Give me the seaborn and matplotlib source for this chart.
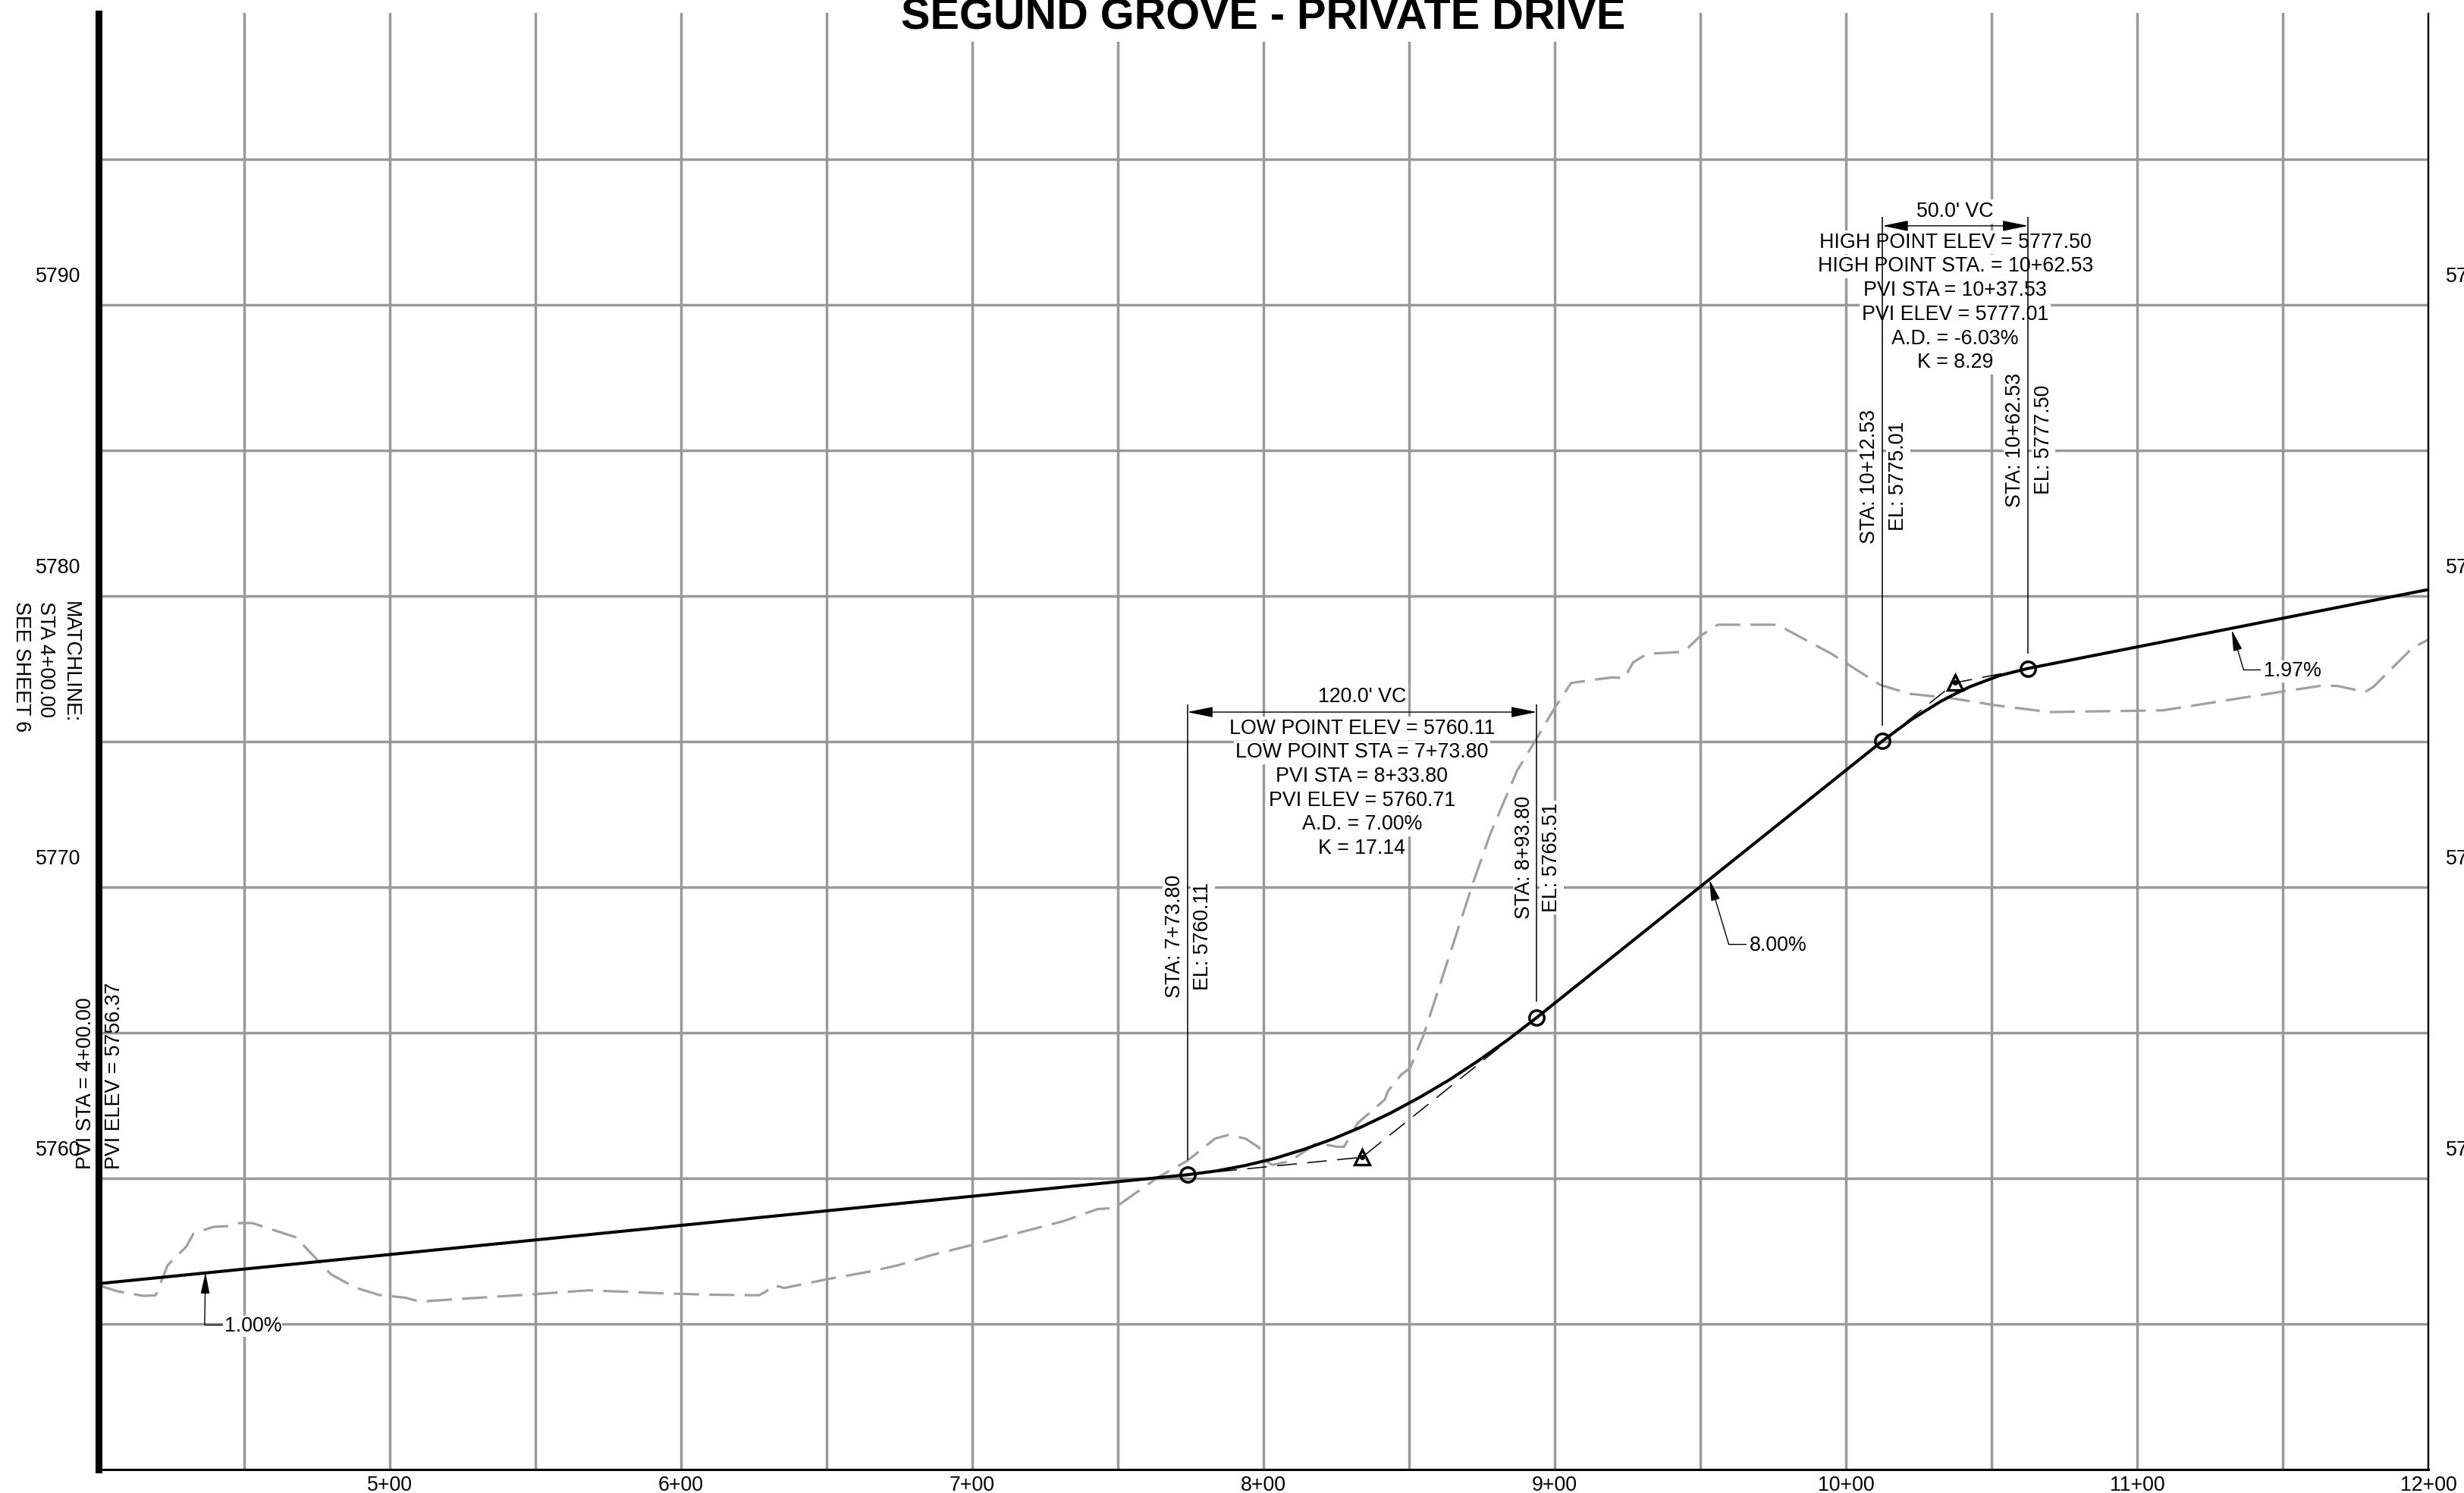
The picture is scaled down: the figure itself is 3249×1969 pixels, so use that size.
import matplotlib
matplotlib.use("Agg")
import matplotlib.pyplot as plt
import seaborn as sns

sns.set_theme(style="white")
plt.rcParams['font.family'] = ['Liberation Sans', 'DejaVu Sans']
plt.rcParams['text.color'] = 'black'

# -------------------------
# Data (station in feet, elevation in feet)
# -------------------------

ground_sta = [400.4, 406.4, 415.4, 419.6, 423.7, 430.1, 432.6, 439.4, 445.4, 448.1, 452.8,
              467.8, 470.8, 479.8, 488.0, 496.3, 505.2, 510.5, 515.7, 550.0, 568.0, 578.6,
              595.3, 610.5, 626.7, 629.0, 631.9, 635.4, 650.0, 665.1, 674.4, 686.0, 700.0,
              731.4, 743.0, 748.8, 763.9, 773.8, 783.3, 788.0, 793.8, 798.4, 800.1, 803.0,
              808.9, 813.6, 818.3, 825.3, 827.6, 832.3, 841.6, 842.8, 847.4, 850.3, 855.0,
              871.8, 877.7, 887.0, 893.8, 900.0, 905.6, 919.5, 923.9, 926.9, 931.7, 944.3,
              950.0, 956.0, 976.4, 995.0, 1011.6, 1021.6, 1036.5, 1051.5, 1069.8, 1108.8,
              1149.5, 1162.8, 1168.6, 1178.2, 1181.0, 1194.2, 1200.0]
ground_elev = [5756.30, 5756.11, 5755.95, 5755.97, 5757.00, 5757.64, 5758.09, 5758.32, 5758.35,
               5758.45, 5758.45, 5757.96, 5757.64, 5756.69, 5756.24, 5755.98, 5755.89, 5755.75,
               5755.79, 5756.01, 5756.14, 5756.10, 5756.03, 5755.99, 5755.97, 5756.09, 5756.32,
               5756.22, 5756.52, 5756.79, 5757.00, 5757.35, 5757.70, 5758.52, 5758.93, 5758.97,
               5760.03, 5760.59, 5761.35, 5761.48, 5761.35, 5761.05, 5760.63, 5760.45, 5760.57,
               5760.88, 5761.20, 5761.07, 5761.07, 5761.88, 5762.69, 5763.00, 5763.56, 5763.77,
               5764.93, 5770.10, 5771.78, 5773.98, 5775.10, 5776.15, 5777.00, 5777.19, 5777.17,
               5777.71, 5778.00, 5778.07, 5778.62, 5779.00, 5779.00, 5778.00, 5776.94, 5776.63,
               5776.47, 5776.23, 5776.00, 5776.06, 5776.70, 5776.90, 5776.90, 5776.69, 5776.86,
               5778.18, 5778.50]

profile_sta = [400.0, 773.8, 783.8, 793.8, 803.8, 813.8, 823.8, 833.8, 843.8, 853.8, 863.8, 873.8,
               883.8, 893.8, 1012.53, 1022.53, 1032.53, 1037.53, 1042.53, 1052.53, 1062.53, 1200.0]
profile_elev = [5756.37, 5760.11, 5760.24, 5760.43, 5760.67, 5760.98, 5761.34, 5761.76, 5762.24,
                5762.78, 5763.37, 5764.03, 5764.74, 5765.51, 5775.01, 5775.75, 5776.37, 5776.63,
                5776.87, 5777.25, 5777.50, 5780.21]

sag_tangent_sta = [773.8, 833.8, 893.8]
sag_tangent_elev = [5760.11, 5760.71, 5765.51]
crest_tangent_sta = [1012.53, 1037.53, 1062.53]
crest_tangent_elev = [5775.01, 5777.01, 5777.50]

curve_pt_sta = [773.8, 893.8, 1012.53, 1062.53]
curve_pt_elev = [5760.11, 5765.51, 5775.01, 5777.50]
pvi_sta = [833.8, 1037.53]
pvi_elev = [5760.71, 5777.01]

elev_labels = [5760, 5770, 5780, 5790]
sta_ticks = [400, 450, 500, 550, 600, 650, 700, 750, 800, 850, 900, 950, 1000, 1050, 1100, 1150, 1200]
sta_tick_labels = ["", "", "5+00", "", "6+00", "", "7+00", "", "8+00", "", "9+00", "", "10+00", "",
                    "11+00", "", "12+00"]
elev_ticks = [5755, 5760, 5765, 5770, 5775, 5780, 5785, 5790, 5795]

sag_lines = ["LOW POINT ELEV = 5760.11", "LOW POINT STA = 7+73.80", "PVI STA = 8+33.80",
             "PVI ELEV = 5760.71", "A.D. = 7.00%", "K = 17.14"]
crest_lines = ["HIGH POINT ELEV = 5777.50", "HIGH POINT STA. = 10+62.53", "PVI STA = 10+37.53",
               "PVI ELEV = 5777.01", "A.D. = -6.03%", "K = 8.29"]

FS = 19.3
GRAY = "#999999"

# -------------------------
# Figure
# -------------------------

fig = plt.figure(figsize=(32.49, 19.69), dpi=100)
ax = fig.add_axes([130.0 / 3249, 31.5 / 1969, 3072.3 / 3249, 1920 / 1969])

ax.set_xlim(400, 1200)
ax.set_ylim(5750, 5800)
ax.set_xticks(sta_ticks)
ax.set_xticklabels(sta_tick_labels, fontsize=FS)
ax.set_yticks(elev_ticks)
ax.set_yticklabels([])
ax.tick_params(axis="both", length=0, pad=6, colors="black")
ax.grid(True, color=GRAY, linewidth=2.5)
ax.set_axisbelow(True)
ax.set_xlabel("")
ax.set_ylabel("")

ax.spines["top"].set_visible(False)
ax.spines["left"].set_linewidth(6.5)
ax.spines["left"].set_color("black")
ax.spines["bottom"].set_linewidth(2.2)
ax.spines["bottom"].set_color("black")
ax.spines["right"].set_linewidth(1.7)
ax.spines["right"].set_color("black")

mask = dict(facecolor="white", edgecolor="none", pad=2)

# Existing ground and proposed profile
sns.lineplot(x=ground_sta, y=ground_elev, ax=ax, color="#a0a0a0", linewidth=2.3, sort=False,
             estimator=None, errorbar=None, linestyle=(0, (10.4, 4.2)), zorder=2)
sns.lineplot(x=profile_sta, y=profile_elev, ax=ax, color="black", linewidth=2.9, sort=False,
             estimator=None, errorbar=None, zorder=3)

# Tangents through the PVIs
for t_sta, t_elev in [(sag_tangent_sta, sag_tangent_elev), (crest_tangent_sta, crest_tangent_elev)]:
    sns.lineplot(x=t_sta, y=t_elev, ax=ax, color="black", linewidth=1.1, sort=False, estimator=None,
                 errorbar=None, linestyle=(0, (17, 9)), zorder=2.5)

# Markers
ax.plot(curve_pt_sta, curve_pt_elev, "o", ms=14, mfc="none", mec="black", mew=2.5, zorder=5)
ax.plot(pvi_sta, pvi_elev, "^", ms=14, mfc="none", mec="black", mew=2.4, zorder=5)
ax.plot(pvi_sta, pvi_elev, "o", ms=4, color="black", zorder=5)

# Extension lines from curve points up to the dimension lines
ext_tops = [5776.27, 5776.27, 5793.0, 5793.0]
ext_bottoms = [5760.62, 5766.05, 5775.53, 5778.0]
ax.vlines(curve_pt_sta, ext_bottoms, ext_tops, color="black", linewidth=1.1, zorder=4)

# Dimension arrows
dim_style = "<|-|>,head_length=21,head_width=4.3"
for x0, x1, y in [(773.8, 893.8, 5776.0), (1012.53, 1062.53, 5792.7)]:
    ax.annotate("", xy=(x1, y), xytext=(x0, y),
                arrowprops=dict(arrowstyle=dim_style, mutation_scale=1, color="black", lw=1.0,
                                shrinkA=0, shrinkB=0), zorder=4)
ax.text(833.8, 5776.53, "120.0' VC", fontsize=FS, ha="center", va="center", bbox=mask, zorder=1.5)
ax.text(1037.5, 5793.19, "50.0' VC", fontsize=FS, ha="center", va="center", bbox=mask, zorder=1.5)

# Curve data blocks
for i, line in enumerate(sag_lines):
    ax.text(833.8, 5775.44 - i * 0.826, line, fontsize=FS, ha="center", va="center", bbox=mask,
            zorder=1.5)
for i, line in enumerate(crest_lines):
    ax.text(1037.5, 5792.13 - i * 0.826, line, fontsize=FS, ha="center", va="center", bbox=mask,
            zorder=1.5)

# Vertical station / elevation labels
rot_labels = [(769.5, 5768.3, "STA: 7+73.80"), (779.1, 5768.3, "EL: 5760.11"),
              (889.6, 5771.0, "STA: 8+93.80"), (898.9, 5771.0, "EL: 5765.51"),
              (1008.0, 5784.1, "STA: 10+12.53"), (1017.9, 5784.1, "EL: 5775.01"),
              (1058.1, 5785.35, "STA: 10+62.53"), (1067.8, 5785.35, "EL: 5777.50")]
for x, y, label in rot_labels:
    ax.text(x, y, label, fontsize=FS, rotation=90, ha="center", va="center", bbox=mask, zorder=1.5)

ax.text(395.7, 5760.3, "PVI STA = 4+00.00", fontsize=FS, rotation=90, ha="center", va="bottom", zorder=6)
ax.text(405.4, 5760.3, "PVI ELEV = 5756.37", fontsize=FS, rotation=90, ha="center", va="bottom", zorder=6)

# Matchline note
ax.text(390.4, 5779.8, "MATCHLINE:", fontsize=FS, rotation=270, ha="center", va="top")
ax.text(381.8, 5779.8, "STA 4+00.00", fontsize=FS, rotation=270, ha="center", va="top")
ax.text(373.5, 5779.8, "SEE SHEET 6", fontsize=FS, rotation=270, ha="center", va="top")

# Grade leaders
leaders = [(436.7, 5756.75, 436.4, 5754.96, 442.4, 443.1, "1.00%"),
           (953.1, 5770.24, 959.7, 5768.03, 965.5, 966.8, "8.00%"),
           (1132.4, 5778.82, 1136.5, 5777.45, 1142.0, 1143.4, "1.97%")]
for tip_x, tip_y, elbow_x, elbow_y, end_x, text_x, label in leaders:
    ax.annotate("", xy=(tip_x, tip_y), xytext=(elbow_x, elbow_y),
                arrowprops=dict(arrowstyle="-|>,head_length=17,head_width=3.6", mutation_scale=1,
                                color="black", lw=1.0, shrinkA=0, shrinkB=0), zorder=4)
    ax.plot([elbow_x, end_x], [elbow_y, elbow_y], color="black", linewidth=1.0, zorder=4)
    ax.text(text_x, elbow_y - 0.05, label, fontsize=FS, ha="left", va="center",
            bbox=dict(facecolor="white", edgecolor="none", pad=1), zorder=1.5)

# Elevation labels on both sides, sitting above their gridlines
for elev in elev_labels:
    ax.text(393.9, elev + 0.95, str(elev), fontsize=FS, ha="right", va="center")
    ax.text(1206.0, elev + 0.95, str(elev), fontsize=FS, ha="left", va="center")

# Title, cut by the top of the sheet
ax.text(800, 5799.45, "SEGUND GROVE - PRIVATE DRIVE", fontsize=41.5, fontweight="bold", ha="center",
        va="baseline", bbox=dict(facecolor="white", edgecolor="none", pad=3), zorder=1.5)

fig.savefig("out.png", dpi=100, facecolor="white")
